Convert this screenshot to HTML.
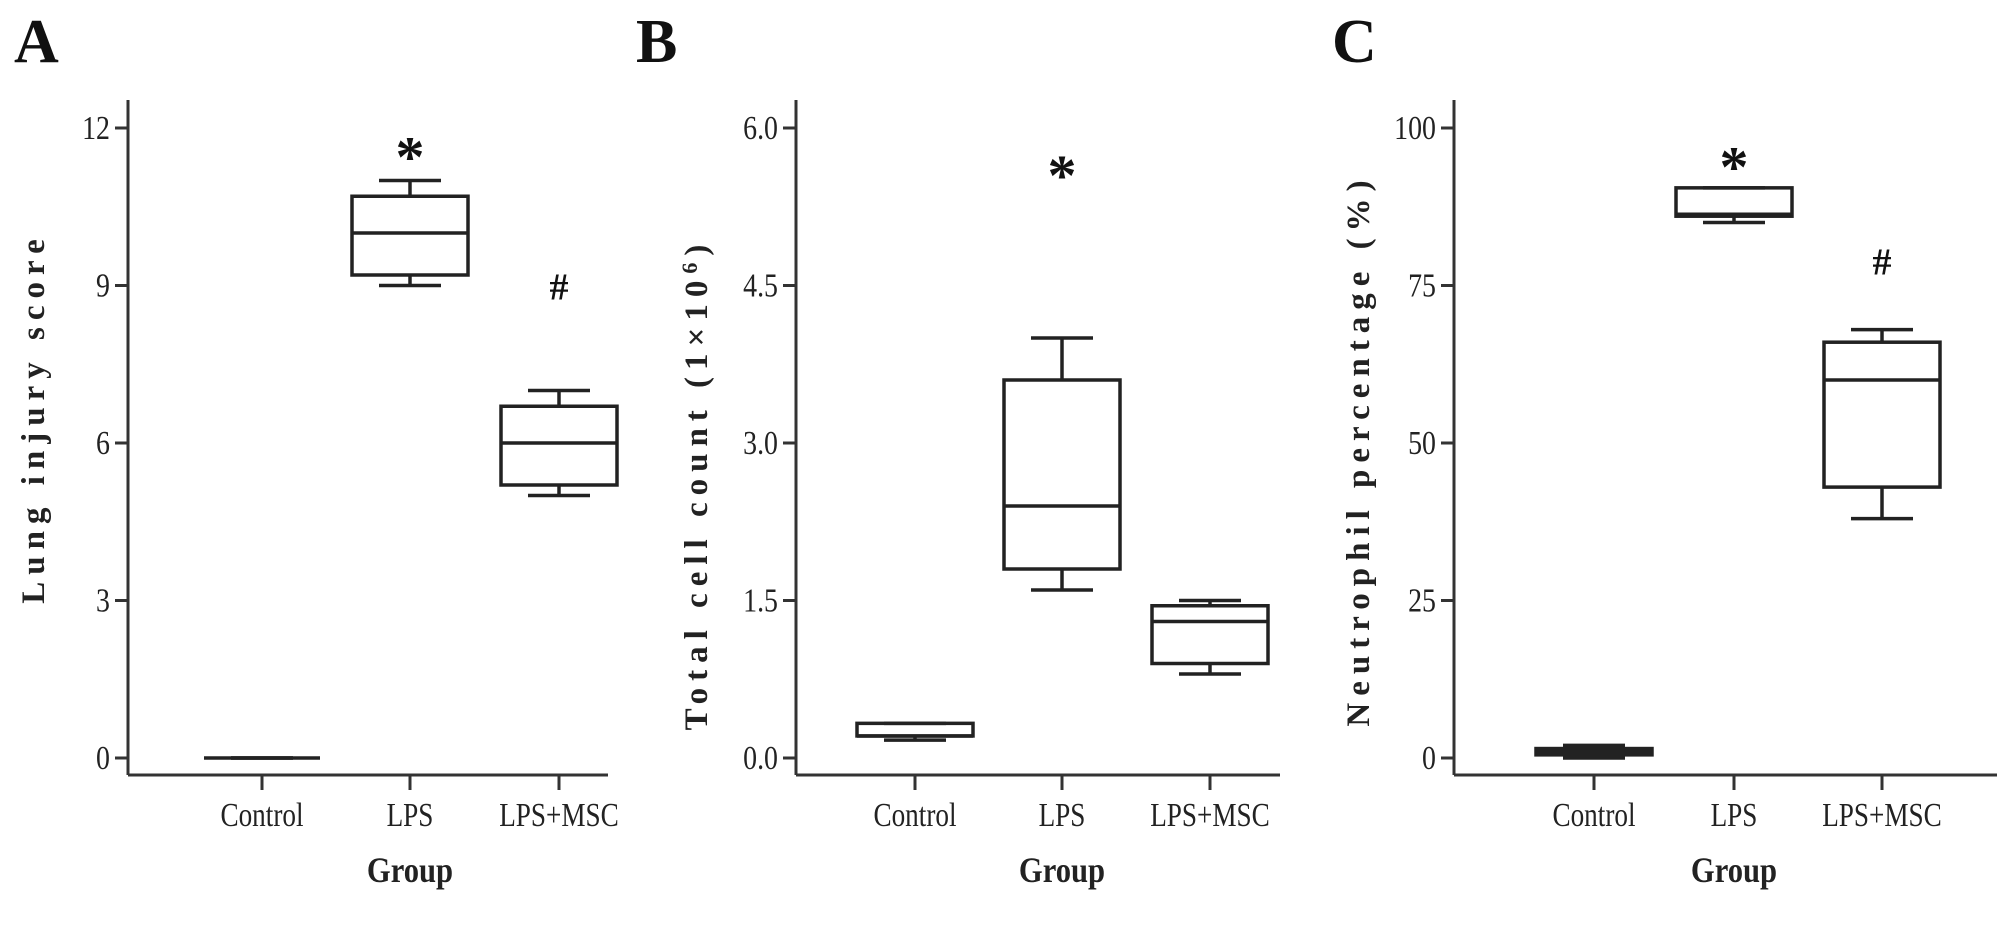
<!DOCTYPE html>
<html><head><meta charset="utf-8"><style>
html,body{margin:0;padding:0;background:#fff;}
svg{display:block;font-family:"Liberation Serif",serif;}
</style></head><body>
<svg id="fig" width="2008" height="937" viewBox="0 0 2008 937"></svg>
<script>
const categories = ["Control","LPS","LPS+MSC"];
// Panel A: lung injury score [min,q1,median,q3,max]
const aMin = [0, 9, 5];
const aQ1 = [0, 9.2, 5.2];
const aMed = [0, 10, 6];
const aQ3 = [0, 10.7, 6.7];
const aMax = [0, 11, 7];
const aTicks = [0,3,6,9,12];
const aTickLabels = ["0","3","6","9","12"];
// Panel B: total cell count
const bMin = [0.17, 1.6, 0.8];
const bQ1 = [0.21, 1.8, 0.9];
const bMed = [0.21, 2.4, 1.3];
const bQ3 = [0.33, 3.6, 1.45];
const bMax = [0.33, 4.0, 1.5];
const bTicks = [0,1.5,3,4.5,6];
const bTickLabels = ["0.0","1.5","3.0","4.5","6.0"];
// Panel C: neutrophil percentage
const cMin = [0, 85, 38];
const cQ1 = [0.5, 86, 43];
const cMed = [1, 86.3, 60];
const cQ3 = [1.5, 90.5, 66];
const cMax = [2, 90.5, 68];
const cTicks = [0,25,50,75,100];
const cTickLabels = ["0","25","50","75","100"];
// annotations: [category index, value, symbol]
const aMarks = [[1, 11.65, "*"], [2, 9.0, "#"]];
const bMarks = [[1, 5.65, "*"]];
const cMarks = [[1, 95.5, "*"], [2, 79, "#"]];

const NS = "http://www.w3.org/2000/svg";
const svg = document.getElementById("fig");
function el(tag, attrs, parent){
  const e = document.createElementNS(NS, tag);
  for (const k in attrs) e.setAttribute(k, attrs[k]);
  (parent||svg).appendChild(e);
  return e;
}

function panel(cfg){
  const g = el("g", {});
  
  
  const y0 = 758, yTop = 128;
  const ymax = cfg.ticks[cfg.ticks.length-1];
  const yS = v => y0 - (v/ymax)*(y0-yTop);
  const xS = i => cfg.catX[i];
  const stroke = "#222";
  const ya = el("line",{x1:cfg.ax,y1:100,x2:cfg.ax,y2:775,stroke:"#333","stroke-width":3},g);
  
  
  const xa = el("line",{x1:cfg.ax,y1:775,x2:cfg.axEnd,y2:775,stroke:"#333","stroke-width":3},g);
  
  
  cfg.ticks.forEach((t,i)=>{
    const y = yS(t);
    el("line",{x1:cfg.ax-13,y1:y,x2:cfg.ax,y2:y,stroke:"#333","stroke-width":3},g);
    const tx = el("text",{x:cfg.ax-18,y:y+11,"text-anchor":"end","font-size":34,fill:"#222",transform:`translate(${cfg.ax-18},0) scale(0.82,1) translate(${-(cfg.ax-18)},0)`},g);
    tx.textContent = cfg.tickLabels[i];
    
    
  });
  categories.forEach((c,i)=>{
    const x = xS(i);
    el("line",{x1:x,y1:775,x2:x,y2:790,stroke:"#333","stroke-width":3},g);
    const tx = el("text",{x:x,y:826,"text-anchor":"middle","font-size":34,fill:"#222",transform:`translate(${x},0) scale(0.8,1) translate(${-x},0)`},g);
    tx.textContent = c;
    
    
    const bw = 58, cw = 31;
    const bg = el("g",{fill:"none",stroke:stroke,"stroke-width":3.5},g);
    
    
    el("line",{x1:x,y1:yS(cfg.max[i]),x2:x,y2:yS(cfg.q3[i])},bg);
    el("line",{x1:x,y1:yS(cfg.q1[i]),x2:x,y2:yS(cfg.min[i])},bg);
    el("line",{x1:x-cw,y1:yS(cfg.max[i]),x2:x+cw,y2:yS(cfg.max[i])},bg);
    el("line",{x1:x-cw,y1:yS(cfg.min[i]),x2:x+cw,y2:yS(cfg.min[i])},bg);
    el("rect",{x:x-bw,y:yS(cfg.q3[i]),width:2*bw,height:Math.max(0,yS(cfg.q1[i])-yS(cfg.q3[i]))},bg);
    el("line",{x1:x-bw,y1:yS(cfg.med[i]),x2:x+bw,y2:yS(cfg.med[i])},bg);
  });
  cfg.marks.forEach(m=>{
    const isStar = m[2]==="*";
    const t = el("text",{x:xS(m[0]),y:yS(m[1])+(isStar?30:14),"text-anchor":"middle","font-size":isStar?58:38,"font-weight":"bold",fill:"#111"},g);
    t.textContent = m[2];
    
    
  });
  const gt = el("text",{x:xS(1),y:882,"text-anchor":"middle","font-size":36,"font-weight":"bold",fill:"#222",transform:`translate(${xS(1)},0) scale(0.85,1) translate(${-xS(1)},0)`},g);
  gt.textContent = "Group";
  
  
  const yt = el("text",{x:0,y:0,"text-anchor":"middle","font-size":33,"font-weight":"bold","letter-spacing":"7",fill:"#222",transform:`translate(${cfg.titleX},${cfg.titleY}) rotate(-90)`},g);
  yt.innerHTML = cfg.title;
  
  
  const L = el("text",{x:cfg.letterX,y:62,"font-size":62,"font-weight":"bold",fill:"#111"},g);
  L.textContent = cfg.letter;
  
  
}

panel({name:"panel-a",letter:"A",letterX:14,ax:128,axEnd:608,catX:[262,410,559],
  ticks:aTicks,tickLabels:aTickLabels,min:aMin,q1:aQ1,med:aMed,q3:aQ3,max:aMax,marks:aMarks,
  title:"Lung injury score",titleX:44,titleY:418});
panel({name:"panel-b",letter:"B",letterX:636,ax:796,axEnd:1280,catX:[915,1062,1210],
  ticks:bTicks,tickLabels:bTickLabels,min:bMin,q1:bQ1,med:bMed,q3:bQ3,max:bMax,marks:bMarks,
  title:"Total cell count (1\u00d710<tspan dy='-10' font-size='22'>6</tspan><tspan dy='10'>)</tspan>",titleX:707,titleY:484});
panel({name:"panel-c",letter:"C",letterX:1332,ax:1454,axEnd:1997,catX:[1594,1734,1882],
  ticks:cTicks,tickLabels:cTickLabels,min:cMin,q1:cQ1,med:cMed,q3:cQ3,max:cMax,marks:cMarks,
  title:"Neutrophil percentage (%)",titleX:1369,titleY:450});
</script>
</body></html>
